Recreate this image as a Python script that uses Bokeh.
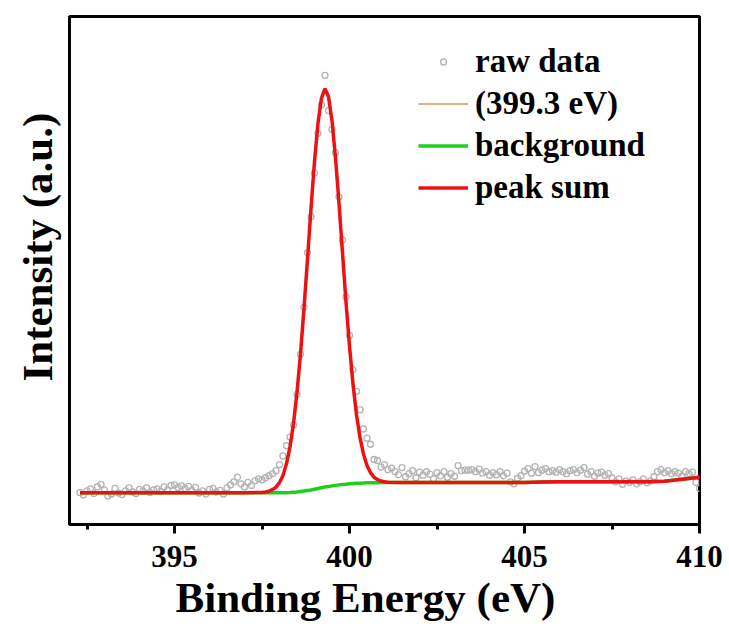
from bokeh.plotting import figure
from bokeh.models import Range1d, FixedTicker, Legend, LegendItem, Title
from bokeh.embed import file_html
from bokeh.resources import INLINE

# ---- data ----
raw_start = 392.3
raw_step = 0.1
raw_intensity = [
    63, 58, 66, 70, 61, 74, 79, 68, 56, 60,      # 392.3 - 393.2
    71, 62, 59, 66, 72, 64, 61, 69, 66, 72,      # 393.3 - 394.2
    63, 68, 70, 65, 74, 68, 77, 78, 73, 76,      # 394.3 - 395.2
    71, 75, 67, 73, 62, 66, 60, 69, 71, 64,      # 395.3 - 396.2
    67, 60, 72, 78, 84, 93, 80, 74, 83, 77,      # 396.3 - 397.2
    86, 90, 88, 92, 96, 100, 106, 118, 135, 155, # 397.3 - 398.2
    172, 196, 256, 335, 428, 535, 606, 692, 770, 826,  # 398.3 - 399.2
    884, 815, 778, 732, 645, 560, 448, 372, 305, 262,  # 399.3 - 400.2
    226, 188, 170, 158, 128, 126, 113, 118, 108, 111,  # 400.3 - 401.2
    104, 98, 112, 94, 100, 106, 92, 103, 97, 104,      # 401.3 - 402.2
    99, 90, 102, 96, 104, 93, 100, 95, 116, 106,       # 402.3 - 403.2
    107, 107, 108, 104, 109, 101, 104, 97, 102, 98,    # 403.3 - 404.2
    104, 96, 101, 84, 80, 91, 96, 105, 110, 101,       # 404.3 - 405.2
    114, 102, 107, 110, 104, 106, 103, 108, 104, 100,  # 405.3 - 406.2
    106, 108, 102, 107, 112, 99, 104, 95, 101, 103,    # 406.3 - 407.2
    97, 100, 92, 84, 90, 79, 86, 83, 88, 80,           # 407.3 - 408.2
    84, 90, 82, 86, 94, 104, 108, 102, 106, 100,       # 408.3 - 409.2
    104, 101, 95, 104, 100, 103, 83, 71,               # 409.3 - 410.0
]
raw_energy = [round(raw_start + raw_step * i, 1) for i in range(len(raw_intensity))]

fit_energy = [392.3, 393.0, 394.0, 395.0, 396.0, 397.0, 397.5,
              397.6, 397.7, 397.8, 397.9, 398.0, 398.1, 398.2, 398.3, 398.4, 398.5,
              398.6, 398.7, 398.8, 398.9, 399.0, 399.1, 399.2, 399.3, 399.4, 399.5,
              399.6, 399.7, 399.8, 399.9, 400.0, 400.1, 400.2, 400.3, 400.4, 400.5,
              400.6, 400.7, 400.8, 400.9, 401.0, 401.1,
              401.5, 402.0, 403.0, 404.0, 405.0, 405.5, 406.0, 407.0, 408.0, 408.5,
              409.0, 409.5, 410.0]
background = [62.5, 62.5, 62.5, 62.5, 62.5, 62.5, 62.5,
              62.5, 62.5, 62.5, 62.5, 62.5, 62.5, 62.7, 63, 63.5, 64,
              65, 66, 67, 68, 69.5, 71, 72.5, 74, 75, 76,
              77, 78, 78.7, 79.3, 80, 80.5, 81, 81.3, 81.6, 82,
              82.2, 82.3, 82.4, 82.5, 82.5, 82.5,
              82.5, 82.5, 82.5, 82.5, 82.5, 83.5, 84, 84, 84, 84,
              85, 89, 93]
peak_sum = [62.5, 62.5, 62.5, 62.5, 62.5, 62.5, 63.2,
            64, 65.5, 68.5, 73.5, 82.5, 96.5, 120, 153, 198.5, 260,
            336, 425, 523, 622, 714.5, 790, 839.5, 858, 842, 795,
            722, 632, 535, 438, 351, 276.5, 216, 171, 138.6, 116,
            102, 93, 88.4, 85.5, 84, 83.2,
            82.5, 82.5, 82.5, 82.5, 82.5, 83.5, 84, 84, 84, 84,
            85, 89, 93]
component_399 = peak_sum  # single component on the background

x_major_ticks = [395, 400, 405, 410]
x_minor_ticks = [392.5, 397.5, 402.5, 407.5]

x_title = "Binding Energy (eV)"
y_title = "Intensity (a.u.)"

FONT = "Liberation Serif"

p = figure(width=729, height=626,
           x_range=Range1d(392, 410), y_range=Range1d(0, 1000),
           output_backend="svg", toolbar_location=None,
           min_border_left=69, min_border_right=30,
           min_border_top=16, min_border_bottom=102)

p.background_fill_color = "white"
p.border_fill_color = "white"
p.grid.visible = False
p.outline_line_color = "black"
p.outline_line_width = 3

# x axis
xa = p.xaxis[0]
xa.ticker = FixedTicker(ticks=x_major_ticks, minor_ticks=x_minor_ticks)
xa.axis_line_width = 3
xa.major_tick_line_width = 3
xa.minor_tick_line_width = 3
xa.major_tick_out = 9
xa.major_tick_in = 0
xa.minor_tick_out = 5
xa.minor_tick_in = 0
xa.major_label_text_font = FONT
xa.major_label_text_font_style = "bold"
xa.major_label_text_font_size = "31px"
xa.major_label_text_color = "black"
xa.major_label_standoff = 12

# y axis
ya = p.yaxis[0]
ya.ticker = FixedTicker(ticks=[])
ya.axis_line_width = 3
ya.major_tick_line_color = None
ya.minor_tick_line_color = None
ya.major_label_text_font_size = "0px"

# axis titles as side titles (offset like the reference)
t_x = Title(text=x_title, align="left", offset=106, standoff=5,
            text_font=FONT, text_font_style="bold", text_font_size="43px",
            text_color="black")
t_y = Title(text=y_title, align="left", offset=143, standoff=18,
            text_font=FONT, text_font_style="bold", text_font_size="43px",
            text_color="black")
p.add_layout(t_x, "below")
p.add_layout(t_y, "left")

r_raw = p.scatter(raw_energy, raw_intensity, marker="circle", size=6,
                  fill_color=None, line_color="#b3b3b3", line_width=1.3)
r_comp = p.line(fit_energy, component_399, line_color="#d6965a", line_width=1.5)
r_bg = p.line(fit_energy, background, line_color="#1ecf1e", line_width=3.5)
r_sum = p.line(fit_energy, peak_sum, line_color="#ee1111", line_width=3.5)

legend = Legend(items=[
    LegendItem(label="raw data", renderers=[r_raw]),
    LegendItem(label="(399.3 eV)", renderers=[r_comp]),
    LegendItem(label="background", renderers=[r_bg]),
    LegendItem(label="peak sum", renderers=[r_sum]),
], location=(349, 316))
legend.border_line_color = None
legend.background_fill_alpha = 0
legend.padding = 0
legend.margin = 0
legend.spacing = 0
legend.glyph_width = 50
legend.glyph_height = 15
legend.label_height = 42
legend.label_standoff = 7
legend.label_text_font = FONT
legend.label_text_font_style = "bold"
legend.label_text_font_size = "33px"
legend.label_text_color = "black"
p.add_layout(legend)

open("out.html", "w").write(file_html(p, INLINE))
